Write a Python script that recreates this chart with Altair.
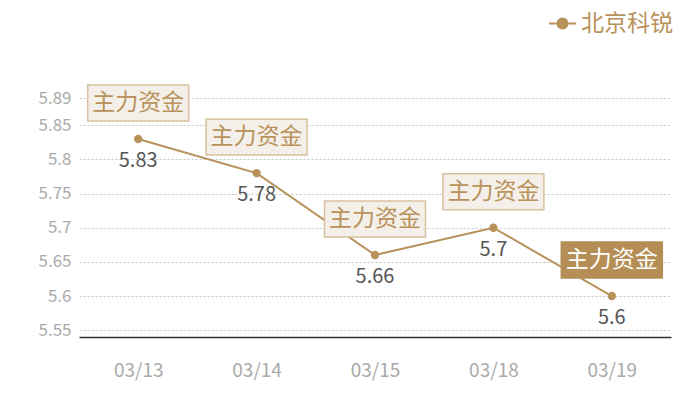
import altair as alt
import pandas as pd

dates = ["03/13", "03/14", "03/15", "03/18", "03/19"]
prices = [5.83, 5.78, 5.66, 5.7, 5.6]
tags = ["主力资金", "主力资金", "主力资金", "主力资金", "主力资金"]
series = ["北京科锐"] * 5
y_ticks = [5.55, 5.6, 5.65, 5.7, 5.75, 5.8, 5.85, 5.89]
dark_date = "03/19"

TAN = "#b8925a"
FONT = "Noto Sans CJK SC"

df = pd.DataFrame({"date": dates, "price": prices, "tag": tags, "series": series})

x = alt.X("date:O", sort=dates, scale=alt.Scale(paddingInner=0, paddingOuter=0.5),
          axis=alt.Axis(title=None, labelAngle=0, ticks=False, grid=False, domain=True,
                        domainColor="#333333", domainWidth=1.5, labelColor="#aaaaaa",
                        labelFontSize=19, labelFont=FONT, labelPadding=24))
y = alt.Y("price:Q", scale=alt.Scale(domain=[5.54, 5.89], nice=False, zero=False),
          axis=alt.Axis(title=None, values=y_ticks, format=".2~f", ticks=False, domain=False,
                        grid=True, gridDash=[2, 2], gridColor="#c4c4c4", labelColor="#aaaaaa",
                        labelFontSize=17, labelFont=FONT, labelPadding=8))

base = alt.Chart(df)

line = base.mark_line(color=TAN, strokeWidth=2).encode(x=x, y=y)

is_dark = alt.datum.date == dark_date

box = base.mark_point(
    shape="M-1,-0.356H1V0.356H-1Z", size=10201, filled=True, opacity=1,
    strokeWidth=1.5, yOffset=-36
).encode(
    x=x, y=y,
    fill=alt.condition(is_dark, alt.value("#b48e55"), alt.value("#f4efe8")),
    stroke=alt.condition(is_dark, alt.value("#b48e55"), alt.value("#d8c19e")),
)

box_text = base.mark_text(fontSize=23, font=FONT, dy=-36, baseline="middle").encode(
    x=x, y=y, text="tag:N",
    color=alt.condition(is_dark, alt.value("#ffffff"), alt.value(TAN)),
)

points = base.mark_point(filled=True, size=70, opacity=1).encode(
    x=x, y=y,
    color=alt.Color("series:N", scale=alt.Scale(range=[TAN]),
                    legend=alt.Legend(
                        title=None, orient="none", legendX=469, legendY=-89,
                        symbolType="M-1,0H1M-0.37,0A0.37,0.37 0 1,0 0.37,0A0.37,0.37 0 1,0 -0.37,0Z",
                        symbolSize=729, symbolStrokeWidth=2, symbolStrokeColor=TAN,
                        symbolFillColor=TAN, labelFontSize=23, labelFont=FONT,
                        labelColor=TAN, labelOffset=4, padding=0, labelLimit=200)),
)

values = base.mark_text(fontSize=20, font=FONT, dy=22, baseline="middle", color="#555555").encode(
    x=x, y=y, text=alt.Text("price:Q", format=".2~f"),
)

chart = alt.layer(line, box, box_text, points, values).properties(
    width=592, height=239,
    padding={"left": 71, "top": 90, "right": 20, "bottom": 46},
    autosize=alt.AutoSizeParams(type="none"),
).configure_view(stroke=None)

chart.save("out.html", embed_options={"renderer": "svg", "actions": False})
